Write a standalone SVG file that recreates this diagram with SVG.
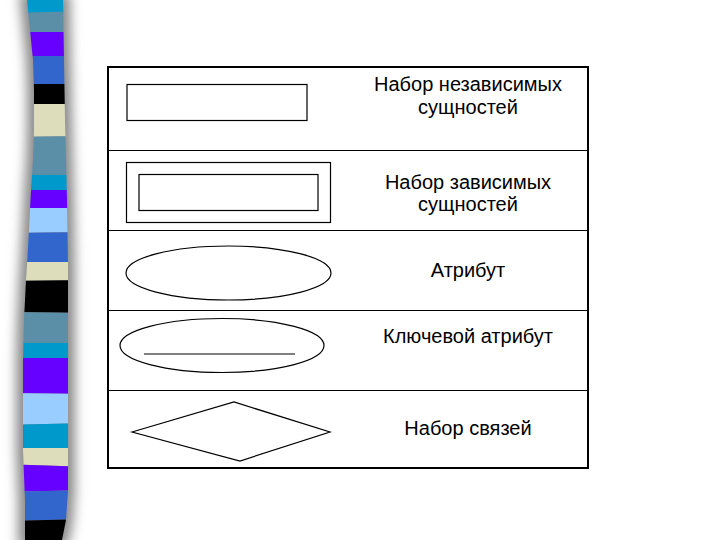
<svg xmlns="http://www.w3.org/2000/svg" width="720" height="540" viewBox="0 0 720 540">
  <style>
    .shape { fill: #ffffff; stroke: #000000; stroke-width: 1.2; }
    .row { stroke: #000000; stroke-width: 1; }
    .lbl { font-family: "Liberation Sans", Arial, sans-serif; font-size: 20px; fill: #000000; text-anchor: middle; }
  </style>
  <defs>
    <filter id="blur" x="-1" y="-0.1" width="3" height="1.2">
      <feGaussianBlur stdDeviation="6"/>
    </filter>
    <clipPath id="barClip">
      <path id="barShape" d="M27,0 L30,30 L33,60 L34,90 L34,130 L33,160 L31,190 L29,230 L27,265 L26,280 L24,320 L23,360 L23,400 L23,450 L25,500 L25,540 L62,540 L66,520 L68,490 L68,400 L68,265 L67,200 L65,120 L64,60 L63,0 Z"/>
    </clipPath>
  </defs>
  <rect x="0" y="0" width="720" height="540" fill="#ffffff"/>

  <g id="decor-bar">
    <path d="M27,0 L30,30 L33,60 L34,90 L34,130 L33,160 L31,190 L29,230 L27,265 L26,280 L24,320 L23,360 L23,400 L23,450 L25,500 L25,540 L62,540 L66,520 L68,490 L68,400 L68,265 L67,200 L65,120 L64,60 L63,0 Z" fill="#8a8a8a" stroke="#8a8a8a" stroke-width="14" filter="url(#blur)"/>
    <g clip-path="url(#barClip)">
      <rect x="0" y="0" width="90" height="13" fill="#0099cc"/>
      <polygon points="0,13 90,11 90,32 0,32" fill="#5b8fa8"/>
      <polygon points="0,32 90,32 90,56 0,56" fill="#6600ff"/>
      <polygon points="0,56 90,56 90,84 0,84" fill="#3366cc"/>
      <polygon points="0,84 90,84 90,104 0,104" fill="#000000"/>
      <polygon points="0,104 90,104 90,136 0,137" fill="#ddddbb"/>
      <polygon points="0,137 90,136 90,175 0,175" fill="#5b8fa8"/>
      <polygon points="0,175 90,175 90,190 0,190" fill="#0099cc"/>
      <polygon points="0,190 90,190 90,208 0,208" fill="#6600ff"/>
      <polygon points="0,208 90,208 90,232 0,233" fill="#99ccff"/>
      <polygon points="0,233 90,232 90,262 0,262" fill="#3366cc"/>
      <polygon points="0,262 90,262 90,280 0,281" fill="#ddddbb"/>
      <polygon points="0,281 90,280 90,313 0,312" fill="#000000"/>
      <polygon points="0,312 90,313 90,343 0,343" fill="#5b8fa8"/>
      <polygon points="0,343 90,343 90,358 0,358" fill="#0099cc"/>
      <polygon points="0,358 90,358 90,394 0,393" fill="#6600ff"/>
      <polygon points="0,393 90,394 90,423 0,425" fill="#99ccff"/>
      <polygon points="0,425 90,423 90,448 0,448" fill="#0099cc"/>
      <polygon points="0,448 90,448 90,467 0,464" fill="#ddddbb"/>
      <polygon points="0,464 90,467 90,490 0,492" fill="#6600ff"/>
      <polygon points="0,492 90,490 90,519 0,521" fill="#3366cc"/>
      <polygon points="0,521 90,519 90,540 0,540" fill="#000000"/>
    </g>
  </g>

  <g id="table">
    <rect x="108" y="67" width="480" height="401" fill="none" stroke="#000000" stroke-width="2"/>
    <line class="row" x1="108" y1="150.5" x2="588" y2="150.5"/>
    <line class="row" x1="108" y1="230.5" x2="588" y2="230.5"/>
    <line class="row" x1="108" y1="310.5" x2="588" y2="310.5"/>
    <line class="row" x1="108" y1="390.5" x2="588" y2="390.5"/>
  </g>

  <g id="independent-entity">
    <rect class="shape" x="127" y="84.5" width="180" height="36"/>
    <text class="lbl" x="468" y="90.5">Набор независимых</text>
    <text class="lbl" x="468" y="113.5">сущностей</text>
  </g>

  <g id="dependent-entity">
    <rect class="shape" x="126.5" y="162.5" width="204" height="60"/>
    <rect class="shape" x="139" y="174.5" width="179" height="36"/>
    <text class="lbl" x="468" y="188.5">Набор зависимых</text>
    <text class="lbl" x="468" y="210.5">сущностей</text>
  </g>

  <g id="attribute">
    <ellipse class="shape" cx="228.5" cy="273" rx="102.5" ry="27"/>
    <text class="lbl" x="468" y="276.5">Атрибут</text>
  </g>

  <g id="key-attribute">
    <ellipse class="shape" cx="222" cy="345.5" rx="102" ry="27"/>
    <line class="row" x1="144" y1="354" x2="295" y2="354"/>
    <text class="lbl" x="468" y="343">Ключевой атрибут</text>
  </g>

  <g id="relationship-set">
    <polygon class="shape" points="132,432 234,402 330,432 240,461"/>
    <text class="lbl" x="468" y="435">Набор связей</text>
  </g>
</svg>
